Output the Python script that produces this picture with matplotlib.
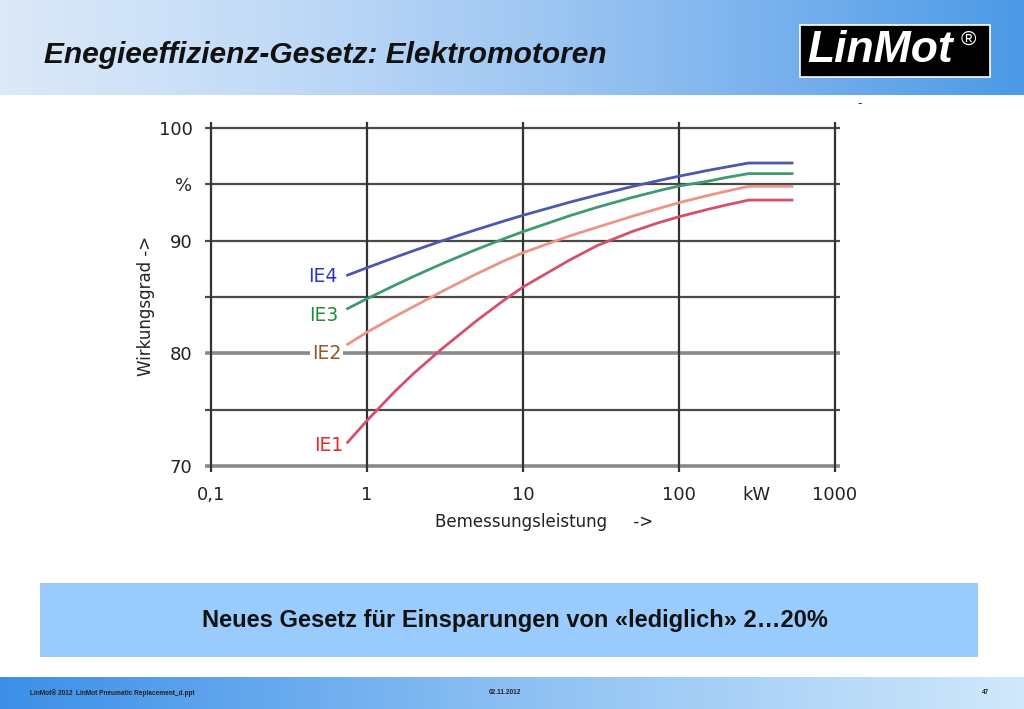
import numpy as np
import matplotlib.pyplot as plt
from matplotlib.colors import LinearSegmentedColormap
from matplotlib.patches import Rectangle

# Daten
leistung_kw = [0.75, 1, 1.5, 2, 3, 5, 7.5, 10, 20, 30, 50, 75, 100, 150, 200, 280, 530]
ie4 = [86.94, 87.6, 88.5, 89.12, 89.97, 90.97, 91.73, 92.25, 93.42, 94.05, 94.8, 95.35, 95.72, 96.21, 96.53, 96.89, 96.89]
ie3 = [83.97, 84.85, 86.03, 86.84, 87.93, 89.21, 90.16, 90.8, 92.22, 92.97, 93.83, 94.45, 94.85, 95.25, 95.6, 95.95, 95.95]
ie2 = [80.8, 81.88, 83.25, 84.17, 85.47, 87.03, 88.19, 88.93, 90.43, 91.2, 92.16, 92.88, 93.37, 93.98, 94.38, 94.82, 94.82]
ie1 = [72.1, 74.04, 76.59, 78.25, 80.37, 82.86, 84.69, 85.89, 88.3, 89.57, 90.81, 91.62, 92.12, 92.75, 93.16, 93.6, 93.6]

x_ticks = [0.1, 1, 10, 100, 313, 1000]
x_labels = ['0,1', '1', '10', '100', 'kW', '1000']
y_ticks = [70, 75, 80, 85, 90, 95, 100]
y_labels = ['70', '', '80', '', '90', '%', '100']

W, H = 1024, 709
fig = plt.figure(figsize=(W / 100, H / 100), dpi=100)

# Hintergrund (Folie)
bg = fig.add_axes([0, 0, 1, 1])
bg.axis('off')

kopf = LinearSegmentedColormap.from_list('kopf', ['#dce9f8', '#c4dcf7', '#a3c9f3', '#7ab2ee', '#4b9ae6'])
fuss = LinearSegmentedColormap.from_list('fuss', ['#3c8fe8', '#8cc0f3', '#d0e8fb'])
grad = np.linspace(0, 1, 256).reshape(1, -1)
bg.imshow(grad, cmap=kopf, extent=[0, W, 95, 0], aspect='auto')
bg.imshow(grad, cmap=fuss, extent=[0, W, H, 677], aspect='auto')
bg.set_xlim(0, W)
bg.set_ylim(H, 0)

bg.text(44, 55, 'Enegieeffizienz-Gesetz: Elektromotoren', fontsize=21.5, fontweight='bold',
        fontstyle='italic', family='Liberation Sans', va='center', ha='left', color='#111111')

# Logo
bg.add_patch(Rectangle((800, 25), 190, 52, facecolor='black', edgecolor='white', lw=1.2))
bg.text(807, 51, 'LinMot', fontsize=32, fontweight='bold', fontstyle='italic',
        family='Liberation Sans', color='white', va='center', ha='left')
bg.text(961, 39, '®', fontsize=15, color='white', family='Liberation Sans', va='center', ha='left')
bg.text(860, 104, '-', fontsize=9, color='#333333', va='center', ha='center')

# Kasten unten
bg.add_patch(Rectangle((40, 583), 938, 74, facecolor='#9acbfd', edgecolor='none'))
bg.text(515, 621, 'Neues Gesetz für Einsparungen von «lediglich» 2…20%', fontsize=17,
        fontweight='bold', family='Liberation Sans', ha='center', va='center', color='#111111')

# Fusszeile
bg.text(30, 693, 'LinMot® 2012  LinMot Pneumatic Replacement_d.ppt', fontsize=4.7, fontweight='bold',
        family='Liberation Sans', va='center', ha='left', color='#222222')
bg.text(505, 693, '02.11.2012', fontsize=4.7, fontweight='bold', family='Liberation Sans',
        va='center', ha='center', color='#222222')
bg.text(985, 693, '47', fontsize=4.7, fontweight='bold', family='Liberation Sans',
        va='center', ha='center', color='#222222')

# Diagramm
ax = fig.add_axes([205 / W, 1 - 472 / H, 635 / W, 350 / H])
ax.set_xscale('log')
ax.set_xlim(10 ** -1.039, 10 ** 3.032)
ax.set_ylim(69.47, 100.53)
for s in ax.spines.values():
    s.set_visible(False)
ax.patch.set_alpha(0)

for y in y_ticks:
    if y in (70, 80):
        ax.axhline(y, color='#8a8a8a', lw=2.6, zorder=1)
    else:
        ax.axhline(y, color='#4a4a4a', lw=1.6, zorder=1)
for x in [0.1, 1, 10, 100, 1000]:
    ax.axvline(x, color='#333333', lw=1.6, zorder=1)

ax.plot(leistung_kw, ie4, color='#4a58b2', lw=2, zorder=3)
ax.plot(leistung_kw, ie3, color='#3f9a70', lw=2, zorder=3)
ax.plot(leistung_kw, ie2, color='#ec9486', lw=2, zorder=3)
ax.plot(leistung_kw, ie1, color='#d4506c', lw=2, zorder=3)

lab = dict(fontsize=13.5, family='DejaVu Sans', ha='right', va='center', zorder=4)
ax.text(0.65, 86.8, 'IE4', color='#2a35d0', **lab)
ax.text(0.65, 83.4, 'IE3', color='#238a38', **lab)
ax.text(0.68, 79.95, 'IE2', color='#8f5a2a',
        bbox=dict(facecolor='white', edgecolor='none', pad=1.5), **lab)
ax.text(0.70, 71.8, 'IE1', color='#e02a2a', **lab)

ax.set_xticks(x_ticks)
ax.set_xticklabels(x_labels)
ax.minorticks_off()
ax.set_yticks(y_ticks)
ax.set_yticklabels(y_labels)
ax.tick_params(length=0, labelsize=13, colors='#222222')
ax.tick_params(axis='x', pad=10)
ax.tick_params(axis='y', pad=9)

ax.set_ylabel('Wirkungsgrad ->', fontsize=12, color='#222222')
ax.yaxis.set_label_coords(-0.078, 0.474)
ax.set_xlabel('Bemessungsleistung     ->', fontsize=12, color='#222222')
ax.xaxis.set_label_coords(0.534, -0.117)

fig.savefig('out.png', dpi=100)
